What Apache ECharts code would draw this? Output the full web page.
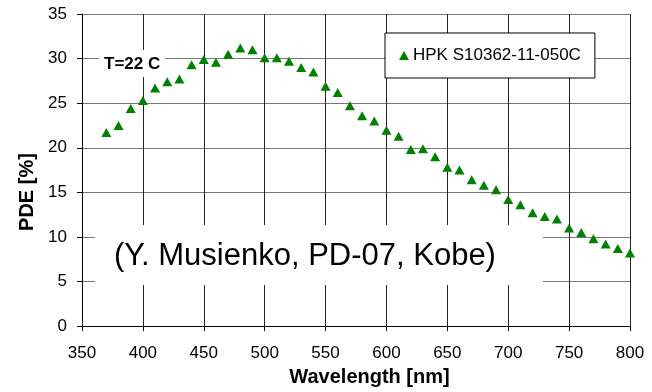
<!DOCTYPE html>
<html>
<head>
<meta charset="utf-8">
<script src="https://cdn.jsdelivr.net/npm/echarts@6/dist/echarts.min.js"></script>
<style>html,body{margin:0;padding:0;background:#fff;}#c{width:652px;height:392px;}</style>
</head>
<body>
<div id="c"></div>
<script>
var wavelengths = [370,380,390,400,410,420,430,440,450,460,470,480,490,500,510,520,530,540,550,560,570,580,590,600,610,620,630,640,650,660,670,680,690,700,710,720,730,740,750,760,770,780,790,800];
var pde = [21.7,22.5,24.4,25.3,26.7,27.4,27.7,29.3,29.9,29.6,30.5,31.2,31.0,30.1,30.1,29.7,29.0,28.5,26.9,26.2,24.7,23.6,23.0,21.95,21.3,19.8,19.9,19.0,17.8,17.5,16.4,15.8,15.3,14.2,13.6,12.7,12.3,12.0,11.0,10.5,9.8,9.2,8.7,8.2];
var seriesName = 'HPK S10362-11-050C';
var xTitle = 'Wavelength [nm]';
var yTitle = 'PDE [%]';
var noteTemp = 'T=22 C';
var noteRef = '(Y. Musienko, PD-07, Kobe)';

var points = wavelengths.map(function (w, i) { return [w, pde[i]]; });
var FONT = '"Liberation Sans", Arial, sans-serif';

var chart = echarts.init(document.getElementById('c'), null, {renderer: 'canvas'});
chart.setOption({
  backgroundColor: '#fff',
  animation: false,
  grid: {left: 82, right: 22, top: 14, bottom: 65, containLabel: false},
  xAxis: {
    type: 'value', min: 350, max: 800, interval: 50,
    name: xTitle, nameLocation: 'middle', nameGap: 40,
    nameTextStyle: {fontFamily: FONT, fontSize: 20, fontWeight: 'bold', color: '#000', padding: [0, 0, 0, 27]},
    axisLine: {show: true, lineStyle: {color: '#000', width: 1}},
    axisTick: {show: true, length: 5, lineStyle: {color: '#000'}},
    axisLabel: {fontFamily: FONT, fontSize: 17, color: '#000', margin: 19},
    splitLine: {show: true, lineStyle: {color: '#222', width: 1}}
  },
  yAxis: {
    type: 'value', min: 0, max: 35, interval: 5,
    name: yTitle, nameLocation: 'middle', nameGap: 44,
    nameTextStyle: {fontFamily: FONT, fontSize: 20, fontWeight: 'bold', color: '#000', padding: [0, 44, 0, 0]},
    axisLine: {show: true, lineStyle: {color: '#000', width: 1}},
    axisTick: {show: true, length: 5, lineStyle: {color: '#000'}},
    axisLabel: {fontFamily: FONT, fontSize: 17, color: '#000', margin: 15},
    splitLine: {show: true, lineStyle: {color: '#777', width: 1}}
  },
  legend: {
    show: true, left: 385, top: 33, orient: 'horizontal',
    backgroundColor: '#fff', borderColor: '#000', borderWidth: 1,
    padding: [14, 14, 14, 14],
    icon: 'triangle', itemWidth: 10, itemHeight: 9, itemGap: 0,
    itemStyle: {opacity: 1},
    textStyle: {fontFamily: FONT, fontSize: 17, color: '#000', padding: [0, 0, 0, -1]},
    data: [seriesName]
  },
  graphic: [
    {type: 'rect', z: 1, shape: {x: 99, y: 50, width: 66, height: 27}, style: {fill: '#fff'}},
    {type: 'text', z: 1, x: 104, y: 64, style: {text: noteTemp, font: 'bold 17px ' + FONT, fill: '#000', textVerticalAlign: 'middle', verticalAlign: 'middle'}},
    {type: 'rect', z: 1, shape: {x: 95, y: 225, width: 448, height: 60}, style: {fill: '#fff'}},
    {type: 'text', z: 1, x: 114, y: 256, style: {text: noteRef, font: '31px ' + FONT, fill: '#000', textVerticalAlign: 'middle', verticalAlign: 'middle'}}
  ],
  series: [{
    name: seriesName, type: 'scatter', z: 3,
    symbol: 'triangle', symbolSize: [10, 9],
    itemStyle: {color: '#008000', opacity: 1},
    data: points
  }]
});
</script>
</body>
</html>
